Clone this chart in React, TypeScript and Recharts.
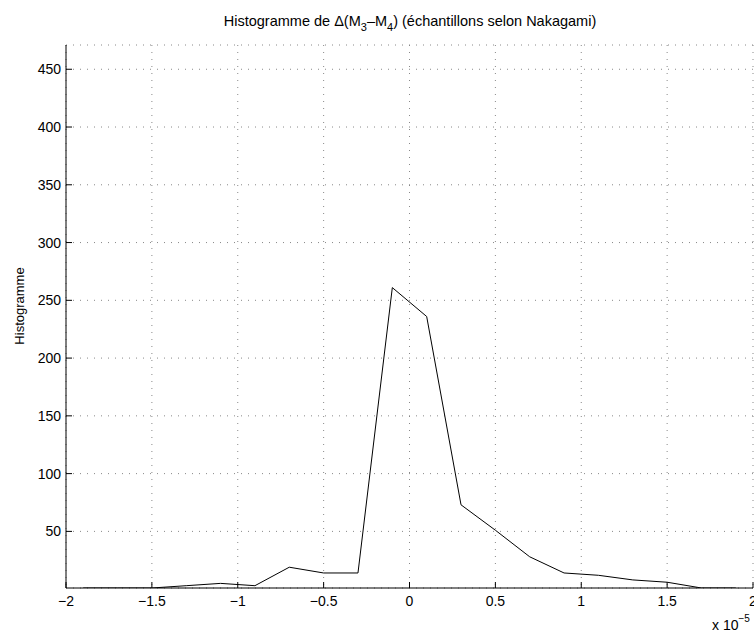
import React from 'react';
import { LineChart, Line, XAxis, YAxis, CartesianGrid } from 'recharts';

// bin centres (x 10^-5) and counts
const binCenters = [-1.9, -1.7, -1.5, -1.3, -1.1, -0.9, -0.7, -0.5, -0.3, -0.1, 0.1, 0.3, 0.5, 0.7, 0.9, 1.1, 1.3, 1.5, 1.7, 1.9];
const counts = [1, 1, 1, 3, 5, 3, 19, 14, 14, 261, 236, 73, 51, 28, 14, 12, 8, 6, 1, 1];

const xTicks = [-2, -1.5, -1, -0.5, 0, 0.5, 1, 1.5, 2];
const yTicks = [50, 100, 150, 200, 250, 300, 350, 400, 450];
const xDomain = [-2, 2];
const yDomain = [1, 471];

const data = binCenters.map((x, i) => ({ x, count: counts[i] }));

const FONT = 'Liberation Sans, Arial, Helvetica, sans-serif';
const fmt = (v: number) => String(v).replace('-', '\u2212');

const BottomTick = (props: any) => {
  const { x, y, payload } = props;
  return (
    <g>
      <line x1={x} y1={y} x2={x} y2={y - 6} stroke="#000" />
      <text x={x} y={y + 18} textAnchor="middle" fontSize={14} fontFamily={FONT} fill="#000">
        {fmt(payload.value)}
      </text>
    </g>
  );
};

const LeftTick = (props: any) => {
  const { x, y, payload } = props;
  return (
    <g>
      <line x1={x} y1={y} x2={x + 6} y2={y} stroke="#000" />
      <text x={x - 5} y={y + 5} textAnchor="end" fontSize={14} fontFamily={FONT} fill="#000">
        {payload.value}
      </text>
    </g>
  );
};

const TopTick = (props: any) => {
  const { x, y } = props;
  return <line x1={x} y1={y} x2={x} y2={y + 6} stroke="#000" />;
};

const RightTick = (props: any) => {
  const { x, y } = props;
  return <line x1={x} y1={y} x2={x - 6} y2={y} stroke="#000" />;
};

export default function App() {
  return (
    <div style={{ position: 'absolute', left: 0, top: 0, width: 754, height: 632, background: '#fff' }}>
      <LineChart width={754} height={632} data={data} margin={{ top: 45, right: 1, bottom: 14, left: 0 }}>
        <CartesianGrid stroke="#888" strokeDasharray="1 6" />
        <XAxis
          dataKey="x"
          type="number"
          domain={xDomain}
          ticks={xTicks}
          allowDataOverflow
          height={30}
          tickSize={0}
          tickMargin={0}
          tickLine={false}
          axisLine={{ stroke: '#000' }}
          tick={<BottomTick />}
          interval={0}
        />
        <XAxis
          xAxisId="top"
          orientation="top"
          type="number"
          domain={xDomain}
          ticks={xTicks}
          allowDataOverflow
          height={0}
          tickSize={0}
          tickMargin={0}
          tickLine={false}
          axisLine={{ stroke: '#000' }}
          tick={<TopTick />}
          interval={0}
        />
        <YAxis
          type="number"
          domain={yDomain}
          ticks={yTicks}
          allowDataOverflow
          width={66}
          tickSize={0}
          tickMargin={0}
          tickLine={false}
          axisLine={{ stroke: '#000' }}
          tick={<LeftTick />}
          interval={0}
        />
        <YAxis
          yAxisId="right"
          orientation="right"
          type="number"
          domain={yDomain}
          ticks={yTicks}
          allowDataOverflow
          width={0}
          tickSize={0}
          tickMargin={0}
          tickLine={false}
          axisLine={{ stroke: '#000' }}
          tick={<RightTick />}
          interval={0}
        />
        <Line
          type="linear"
          dataKey="count"
          stroke="#000"
          strokeWidth={1}
          dot={false}
          isAnimationActive={false}
        />
      </LineChart>
      <svg width={754} height={632} style={{ position: 'absolute', left: 0, top: 0, pointerEvents: 'none' }}>
        <text x={410} y={26} textAnchor="middle" fontSize={14.5} fontFamily={FONT} fill="#000">
          <tspan>Histogramme de Δ(M</tspan>
          <tspan fontSize={11} dy={5}>3</tspan>
          <tspan dy={-5}>–M</tspan>
          <tspan fontSize={11} dy={5}>4</tspan>
          <tspan dy={-5}>) (échantillons selon Nakagami)</tspan>
        </text>
        <text
          x={0}
          y={0}
          transform="translate(24, 306) rotate(-90)"
          textAnchor="middle"
          fontSize={13}
          fontFamily={FONT}
          fill="#000"
        >
          Histogramme
        </text>
        <text x={712} y={630} fontSize={14} fontFamily={FONT} fill="#000">
          <tspan>x 10</tspan>
          <tspan fontSize={10} dy={-8}>−5</tspan>
        </text>
      </svg>
    </div>
  );
}
